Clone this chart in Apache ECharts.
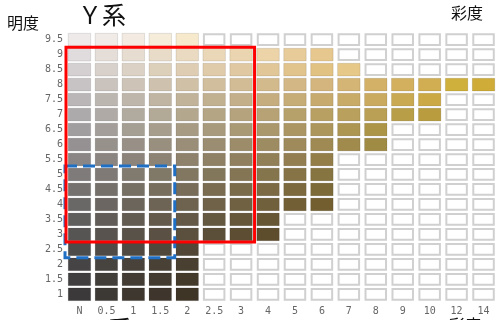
<!DOCTYPE html>
<html><head><meta charset="utf-8">
<script src="https://cdn.jsdelivr.net/npm/echarts@6/dist/echarts.min.js"></script>
<style>html,body{margin:0;padding:0;background:#fff}#c{width:497px;height:320px}</style>
</head><body><div id="c"></div>
<script>
// axis categories
const chromaLabels = ['N','0.5','1','1.5','2','2.5','3','4','5','6','7','8','9','10','12','14'];
const valueLabels = ['1','1.5','2','2.5','3','3.5','4','4.5','5','5.5','6','6.5','7','7.5','8','8.5','9','9.5'];

// chip colours per value row (明度), from chroma N upward; chips beyond the list are blank
const v1_0 = ['#3b3939','#3c3834','#3d3730','#3e362c','#3f3527'];
const v1_5 = ['#403e3e','#413d39','#423c35','#433b30','#443a2c'];
const v2_0 = ['#464444','#47433f','#48423a','#494135','#4a4031'];
const v2_5 = ['#4e4b4b','#4f4a46','#504941','#51483c','#524737'];
const v3_0 = ['#575454','#58534e','#595249','#5a5144','#5b503e','#5c4f39','#5d4e33','#5e4d2d'];
const v3_5 = ['#605d5d','#615c57','#625b52','#635a4c','#645947','#655841','#66573b','#675634'];
const v4_0 = ['#6a6767','#6b6661','#6c655b','#6d6455','#6e634f','#6f6249','#706143','#71603c','#725f36','#735e30'];
const v4_5 = ['#74716f','#75706a','#766f64','#776e5e','#786d58','#796c51','#7a6b4b','#7b6a44','#7c6a3e','#7c6a38'];
const v5_0 = ['#7e7b7a','#7f7a75','#807a6f','#817968','#827862','#83775b','#847654','#85754d','#867447','#867441'];
const v5_5 = ['#8a8686','#8b8581','#8c847b','#8d8374','#8e826d','#8f8166','#90805f','#917f58','#927e51','#937e4a'];
const v6_0 = ['#959192','#97918c','#989086','#998f7f','#9a8e78','#9b8d71','#9c8c6a','#9d8b62','#9e8a5a','#9f8a53','#a08a4c','#a08b45'];
const v6_5 = ['#a19e9f','#a39e99','#a59e93','#a69d8c','#a79b84','#a89a7c','#a99975','#aa976b','#ab9663','#ac965b','#ad9552','#ad9548'];
const v7_0 = ['#adaaab','#afaaa5','#b1aa9e','#b2a996','#b3a78e','#b4a585','#b5a37e','#b6a274','#b7a16b','#b8a063','#b9a05c','#b9a054','#b89e47','#b89c3d'];
const v7_5 = ['#bab6b7','#bcb6b1','#beb6aa','#c0b5a2','#c1b399','#c2b191','#c3af89','#c5ad80','#c6ac76','#c7ab6e','#c9ab68','#caaa5f','#caa953','#cbaa45'];
const v8_0 = ['#c7c3c4','#cac3bd','#cdc4b7','#cec2ae','#d0c0a5','#d1be9d','#d2bc96','#d3ba8d','#d3b785','#d3b57d','#d4b575','#d3b268','#d3b05e','#d2ae53','#d0b03c','#cfac38'];
const v8_5 = ['#d4d0d2','#d8d1cb','#dbd1c4','#ddd0bb','#decdb3','#dfcbaa','#e0c9a2','#e1c798','#e1c38c','#e2c283','#e6c888'];
const v9_0 = ['#e0dcdd','#e4ddd8','#e6ddd0','#e8dbc8','#e9dac1','#ead7b8','#ebd5b0','#ecd4a8','#e7cb99','#e6c88f'];
const v9_5 = ['#eeeaea','#f0ebe7','#f3ebe1','#f5ecda','#f6e9cc'];

// outlined areas (from/to chroma, from/to value)
const redBoxChroma = ['N','3'];
const redBoxValue = ['3','9'];
const blueBoxChroma = ['N','1.5'];
const blueBoxValue = ['2.5','5'];

const rows = [v1_0,v1_5,v2_0,v2_5,v3_0,v3_5,v4_0,v4_5,v5_0,v5_5,v6_0,v6_5,v7_0,v7_5,v8_0,v8_5,v9_0,v9_5];
const cellData = [], cellColors = [];
valueLabels.forEach((v, yi) => {
  chromaLabels.forEach((c, xi) => {
    cellData.push([xi, yi]);
    cellColors.push(rows[yi][xi] || null);
  });
});

function renderCell(params, api) {
  const p = api.coord([api.value(0), api.value(1)]);
  const s = api.size([1, 1]);
  const w = s[0] * 0.835, h = s[1] * 0.85;
  const col = cellColors[params.dataIndex];
  if (col) {
    return {type: 'rect', shape: {x: p[0] - w / 2, y: p[1] - h / 2, width: w, height: h},
      style: {fill: col, stroke: 'rgba(0,0,0,0.10)', lineWidth: 1}};
  }
  return {type: 'rect', shape: {x: p[0] - w / 2 + 1, y: p[1] - h / 2 + 1, width: w - 2, height: h - 2},
    style: {fill: '#ffffff', stroke: '#d0d0d0', lineWidth: 2}};
}

function boxRenderer(stroke, dash, grow) {
  return function (params, api) {
    const a = api.coord([api.value(0), api.value(3)]);
    const b = api.coord([api.value(1), api.value(2)]);
    const s = api.size([1, 1]);
    return {type: 'rect',
      shape: {x: a[0] - s[0] / 2 - grow, y: a[1] - s[1] / 2 - grow,
              width: b[0] - a[0] + s[0] + 2 * grow, height: b[1] - a[1] + s[1] + 2 * grow},
      style: {fill: 'none', stroke: stroke, lineWidth: 3, lineDash: dash}};
  };
}

const ci = l => chromaLabels.indexOf(l);
const vi = l => valueLabels.indexOf(l);

const chart = echarts.init(document.getElementById('c'), null, {renderer: 'canvas'});
chart.setOption({
  animation: false,
  backgroundColor: '#ffffff',
  grid: {left: 66, right: -2.6, top: 32.2, bottom: 18.2, containLabel: false},
  xAxis: {
    type: 'category', data: chromaLabels, boundaryGap: true,
    axisLine: {show: false}, axisTick: {show: false}, splitLine: {show: false},
    axisLabel: {color: '#666', fontFamily: 'DejaVu Sans Mono', fontSize: 10, margin: 5, interval: 0}
  },
  yAxis: {
    type: 'category', data: valueLabels, boundaryGap: true,
    axisLine: {show: false}, axisTick: {show: false}, splitLine: {show: false},
    axisLabel: {color: '#666', fontFamily: 'DejaVu Sans Mono', fontSize: 10, margin: 3, interval: 0}
  },
  graphic: [
    {type: 'text', left: 7, top: 15, style: {text: '明度', fontFamily: 'Noto Sans CJK JP', fontSize: 16, fill: '#111'}},
    {type: 'text', left: 78, top: 3, style: {text: 'Ｙ系', fontFamily: 'Noto Sans CJK JP', fontSize: 24, fill: '#111'}},
    {type: 'text', left: 451, top: 5, style: {text: '彩度', fontFamily: 'Noto Sans CJK JP', fontSize: 16, fill: '#111'}},
    {type: 'text', left: 84, top: 317, style: {text: 'Ｙ系', fontFamily: 'Noto Sans CJK JP', fontSize: 24, fill: '#111'}},
    {type: 'text', left: 449, top: 316.5, style: {text: '彩度', fontFamily: 'Noto Sans CJK JP', fontSize: 16, fill: '#111'}}
  ],
  series: [
    {type: 'custom', renderItem: renderCell, data: cellData, encode: {x: 0, y: 1}, z: 2, silent: true},
    {type: 'custom', renderItem: boxRenderer('#1f6fc5', [12, 6], 1), clip: false, z: 3, silent: true,
      encode: {x: [0, 1], y: [2, 3]},
      data: [[ci(blueBoxChroma[0]), ci(blueBoxChroma[1]), vi(blueBoxValue[0]), vi(blueBoxValue[1])]]},
    {type: 'custom', renderItem: boxRenderer('#ff0000', null, 0), clip: false, z: 4, silent: true,
      encode: {x: [0, 1], y: [2, 3]},
      data: [[ci(redBoxChroma[0]), ci(redBoxChroma[1]), vi(redBoxValue[0]), vi(redBoxValue[1])]]}
  ]
});
</script></body></html>
